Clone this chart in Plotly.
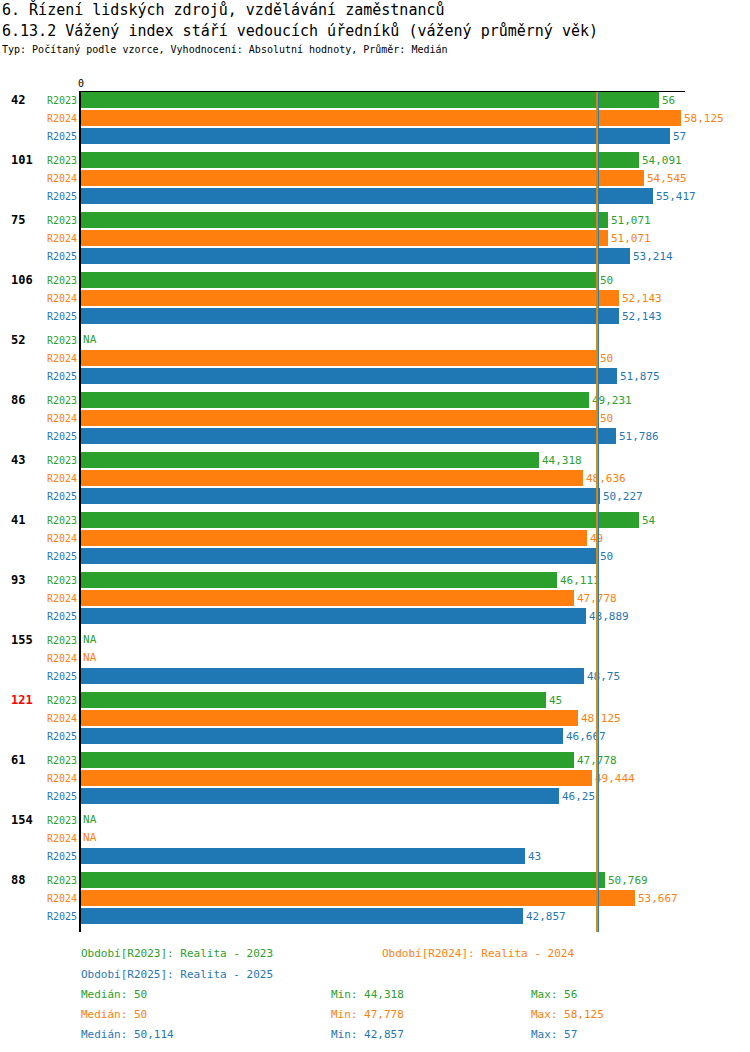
import numpy as np
import plotly.graph_objects as go

groups = ['42', '101', '75', '106', '52', '86', '43', '41', '93', '155', '121', '61', '154', '88']
red_groups = ['121']
periods = ['R2023', 'R2024', 'R2025']
period_names = ['Realita - 2023', 'Realita - 2024', 'Realita - 2025']
colors = ['#2ca02c', '#ff7f0e', '#1f77b4']

r2023 = [56, 54.091, 51.071, 50, None, 49.231, 44.318, 54, 46.111, None, 45, 47.778, None, 50.769]
r2024 = [58.125, 54.545, 51.071, 52.143, 50, 50, 48.636, 49, 47.778, None, 48.125, 49.444, None, 53.667]
r2025 = [57, 55.417, 53.214, 52.143, 51.875, 51.786, 50.227, 50, 48.889, 48.75, 46.667, 46.25, 43, 42.857]
series = [r2023, r2024, r2025]

W, H = 750, 1052
L, R, T, B = 81, 65, 92, 120
PW, PH = W - L - R, H - T - B
MONO = 'DejaVu Sans Mono'


def fmt(v):
    s = ('%.3f' % v).rstrip('0').rstrip('.')
    return s.replace('.', ',')


def px(x):
    return (x - L) / PW


def py(y):
    return (H - B - y) / PH


# slot positions: 18px per bar, 60px per group
step = 60 / 18

fig = go.Figure()
for s, vals in enumerate(series):
    ypos = [g * step + s for g in range(len(groups))]
    xs = [v for v in vals if v is not None]
    ys = [y for y, v in zip(ypos, vals) if v is not None]
    fig.add_trace(go.Bar(
        x=xs, y=ys, orientation='h', width=16 / 18,
        marker=dict(color=colors[s], line=dict(width=0)),
        text=[fmt(v) for v in xs], textposition='outside',
        textfont=dict(family=MONO, size=11, color=colors[s]),
        cliponaxis=False, showlegend=False, hoverinfo='x+y'
    ))
    na_y = [y for y, v in zip(ypos, vals) if v is None]
    if na_y:
        fig.add_trace(go.Scatter(
            x=[0.2] * len(na_y), y=na_y, mode='text', text=['NA'] * len(na_y),
            textposition='middle right',
            textfont=dict(family=MONO, size=11, color=colors[s]),
            cliponaxis=False, showlegend=False, hoverinfo='skip'
        ))

# median lines
medians = [float(np.median([v for v in vals if v is not None])) for vals in series]
for s, w in zip([0, 1, 2], [2, 2, 1]):
    fig.add_shape(type='line', xref='x', yref='paper', x0=medians[s], x1=medians[s],
                  y0=0, y1=1, line=dict(color=colors[s], width=w))

ann = []


def text_at(x, y, text, size, color, xanchor='left', xref='paper', yref='paper'):
    ann.append(dict(xref=xref, yref=yref, x=x, y=y, xanchor=xanchor, yanchor='middle',
                    text=text, showarrow=False,
                    font=dict(family=MONO, size=size, color=color)))


for g, name in enumerate(groups):
    text_at(px(9), g * step, '<b>%s</b>' % name, 12,
            '#ff0000' if name in red_groups else '#000000', yref='y')
    for s, p in enumerate(periods):
        text_at(px(79), g * step + s, p, 10, colors[s], xanchor='right', yref='y')

# header
text_at(px(0), py(10), '6. Řízení lidských zdrojů, vzdělávání zaměstnanců', 15, '#000')
text_at(px(0), py(31), '6.13.2 Vážený index stáří vedoucích úředníků (vážený průměrný věk)', 15, '#000')
text_at(px(0), py(50), 'Typ: Počítaný podle vzorce, Vyhodnocení: Absolutní hodnoty, Průměr: Medián', 10, '#000')

# footer legend
legend_pos = [(79, 954), (380, 954), (79, 974)]
for s, (lx, ly) in enumerate(legend_pos):
    text_at(px(lx), py(ly), 'Období[%s]: %s' % (periods[s], period_names[s]), 11, colors[s])
for s, vals in enumerate(series):
    v = [x for x in vals if x is not None]
    yy = py(994 + 20 * s)
    for lx, label in [(79, 'Medián: ' + fmt(medians[s])), (329, 'Min: ' + fmt(min(v))),
                      (529, 'Max: ' + fmt(max(v)))]:
        text_at(px(lx), yy, label, 11, colors[s])

fig.update_layout(
    width=W, height=H,
    margin=dict(l=L, r=R, t=T, b=B),
    plot_bgcolor='white', paper_bgcolor='white',
    barmode='overlay', bargap=0,
    annotations=ann,
    xaxis=dict(range=[0, 58.5], side='top', tickvals=[0], ticktext=['0'], ticks='',
               showgrid=False, zeroline=False, showline=True, linecolor='#000', linewidth=1,
               tickfont=dict(family=MONO, size=10, color='#000'), fixedrange=True),
    yaxis=dict(range=[45.333 + 16 / 18, -8 / 18], showticklabels=False, ticks='',
               showgrid=False, zeroline=False, showline=True, linecolor='#000', linewidth=2,
               fixedrange=True),
)

fig.write_html('out.html', config={'displayModeBar': False},
               post_script="document.body.style.margin='0';")
